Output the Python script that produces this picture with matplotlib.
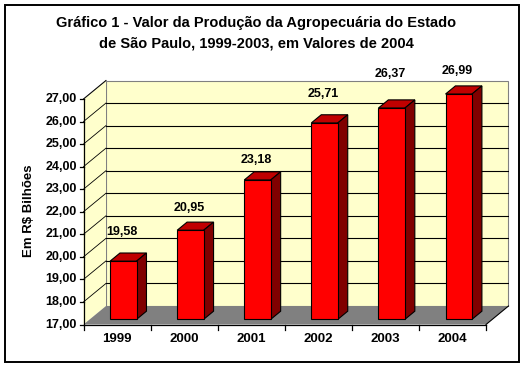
import matplotlib
matplotlib.use('Agg')
import matplotlib.pyplot as plt
from matplotlib.patches import Polygon, Rectangle

# chart data
years = ['1999', '2000', '2001', '2002', '2003', '2004']
values = [19.58, 20.95, 23.18, 25.71, 26.37, 26.99]
value_labels = ['19,58', '20,95', '23,18', '25,71', '26,37', '26,99']
y_ticks = [17, 18, 19, 20, 21, 22, 23, 24, 25, 26, 27]

# small nudges (in value units) for the data labels, as Excel placed them
label_nudge = [1.28, 1.0, 0.88, 1.28, 1.5, 1.03]

plt.rcParams['font.family'] = ['Liberation Sans', 'DejaVu Sans']
plt.rcParams['font.weight'] = 'bold'

W, H = 526, 369
fig = plt.figure(figsize=(W / 100, H / 100), dpi=100)

# 3d depth offsets (in data units)
DX = 0.335
DY = 0.82
YMIN, YMAX = 17, 27
n = len(years)

# axes placed in pixel terms
left_px, right_px, top_px, bot_px = 83.5, 508.5, 80.5, 324.5
ax = fig.add_axes([left_px / W, (H - bot_px) / H, (right_px - left_px) / W, (bot_px - top_px) / H])
ax.set_xlim(0, n + DX)
ax.set_ylim(YMIN, YMAX + DY)
ax.axis('off')

wall = '#FFFFCC'
# back wall and side wall
ax.add_patch(Polygon([(DX, YMIN + DY), (n + DX, YMIN + DY), (n + DX, YMAX + DY), (DX, YMAX + DY)],
                     facecolor=wall, edgecolor='#808080', lw=0.8, clip_on=False, zorder=1))
ax.add_patch(Polygon([(0, YMIN), (DX, YMIN + DY), (DX, YMAX + DY), (0, YMAX)],
                     facecolor=wall, edgecolor='none', clip_on=False, zorder=1))
ax.plot([0, DX], [YMAX, YMAX + DY], color='#808080', lw=0.8, zorder=2, clip_on=False)

# gridlines
for t in y_ticks[1:-1] + [y_ticks[-1]]:
    if t < YMAX:
        ax.plot([DX, n + DX], [t + DY, t + DY], color='black', lw=0.8, zorder=2)
    ax.plot([0, DX], [t, t + DY], color='black', lw=0.6, zorder=2, clip_on=False)

# floor
ax.add_patch(Polygon([(0, YMIN), (n, YMIN), (n + DX, YMIN + DY), (DX, YMIN + DY)],
                     facecolor='#808080', edgecolor='none', clip_on=False, zorder=3))
ax.plot([n, n + DX], [YMIN, YMIN + DY], color='black', lw=0.8, zorder=3, clip_on=False)

# axes lines and ticks
ax.plot([0, 0], [YMIN, YMAX], color='black', lw=0.9, zorder=4, clip_on=False)
ax.plot([0, n], [YMIN, YMIN], color='black', lw=0.9, zorder=4, clip_on=False)
tick_dx = 4 / 67.1
tick_dy = 5 / 22.55
for t in y_ticks:
    ax.plot([-tick_dx, 0], [t, t], color='black', lw=0.9, clip_on=False, zorder=4)
    ax.text(-0.1, t, '%d,00' % t, ha='right', va='center', fontsize=9, fontweight='bold')
for i in range(n + 1):
    ax.plot([i, i], [YMIN, YMIN - tick_dy], color='black', lw=0.9, clip_on=False, zorder=4)
for i, yr in enumerate(years):
    ax.text(i + 0.5, YMIN - 0.65, yr, ha='center', va='center', fontsize=9.5, fontweight='bold')

# bars
bw = 0.395
f0, f1 = 0.28, 0.72
for i, v in enumerate(values):
    x0 = i + 0.5 - bw / 2 + f0 * DX
    y0 = YMIN + f0 * DY
    yt = v + f0 * DY
    ddx = (f1 - f0) * DX
    ddy = (f1 - f0) * DY
    ax.add_patch(Polygon([(x0, yt), (x0 + bw, yt), (x0 + bw + ddx, yt + ddy), (x0 + ddx, yt + ddy)],
                         facecolor='#C00000', edgecolor='black', lw=0.8, zorder=5, clip_on=False))
    ax.add_patch(Polygon([(x0 + bw, y0), (x0 + bw + ddx, y0 + ddy), (x0 + bw + ddx, yt + ddy), (x0 + bw, yt)],
                         facecolor='#800000', edgecolor='black', lw=0.8, zorder=5, clip_on=False))
    ax.add_patch(Rectangle((x0, y0), bw, v - YMIN, facecolor='#FF0000', edgecolor='black',
                           lw=0.8, zorder=6, clip_on=False))
    ax.text(i + 0.5 + 0.07, yt + label_nudge[i], value_labels[i], ha='center', va='center',
            fontsize=9, fontweight='bold', zorder=7)

# y label
fig.text(29 / W, 1 - 211 / H, 'Em R$ Bilhões', rotation=90, ha='center', va='center',
         fontsize=9.5, fontweight='bold')

# title
fig.text(256 / W, 1 - 23.5 / H, 'Gráfico 1 - Valor da Produção da Agropecuária do Estado',
         ha='center', va='center', fontsize=10.5, fontweight='bold')
fig.text(256 / W, 1 - 43.5 / H, 'de São Paulo, 1999-2003, em Valores de 2004',
         ha='center', va='center', fontsize=10.5, fontweight='bold')

# outer frame
fig.patches.append(Rectangle((5 / W, 1 - 362 / H), 514 / W, 357 / H, transform=fig.transFigure,
                             fill=False, edgecolor='black', lw=1.4))

fig.savefig('out.png', dpi=100)
